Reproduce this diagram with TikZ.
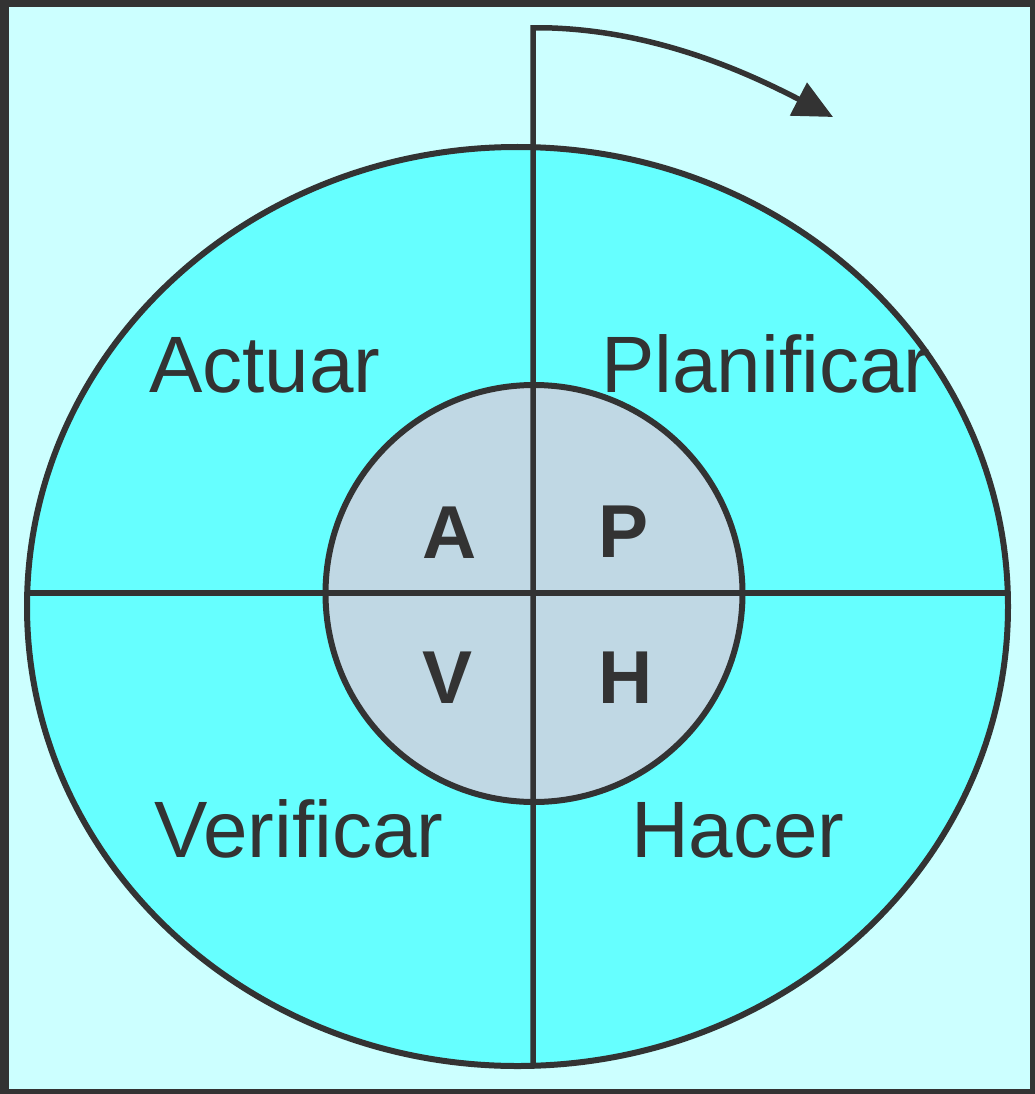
\documentclass[tikz,border=0pt]{standalone}
\usepackage{fontspec}
\setmainfont{Liberation Sans}
\usetikzlibrary{arrows.meta}
\definecolor{framecol}{HTML}{333333}
\definecolor{bgcol}{HTML}{CCFFFF}
\definecolor{ringcol}{HTML}{66FFFF}
\definecolor{corecol}{HTML}{C0D8E4}
\definecolor{inkcol}{HTML}{333333}
\tikzset{
  outline/.style={draw=inkcol, line width=6pt},
  bigword/.style={inner sep=0pt, anchor=base west, text=inkcol, font=\fontsize{80}{96}\selectfont},
  letter/.style={inner sep=0pt, anchor=base west, text=inkcol, font=\fontsize{75}{90}\selectfont\bfseries},
}
\begin{document}
\begin{tikzpicture}[x=1pt,y=-1pt]
  % frame and background
  \fill[framecol] (0,0) rectangle (1035,1094);
  \fill[bgcol] (9,7) rectangle (1030,1089);
  \useasboundingbox (0,0) rectangle (1035,1094);
  % named coordinates
  \coordinate (top) at (533,28);
  \coordinate (bottom) at (533,1065.8);
  \coordinate (left) at (27.2,593);
  \coordinate (right) at (1007.8,593);
  \coordinate (tip) at (833,117);
  % outer ellipse fill
  \fill[ringcol] (517.5,606.5) ellipse [x radius=490.5, y radius=459.5];
  % inner circle fill
  \fill[corecol] (534,593.5) circle [radius=208.5];
  % cross lines
  \draw[draw=inkcol, line width=6pt] (left) -- (right);
  \draw[draw=inkcol, line width=5.5pt, -{Triangle[length=39pt,width=36pt]}]
    (bottom) -- (top) -- (552,28) .. controls (660,32) and (750,74) .. (tip);
  % outlines
  \draw[outline] (534,593.5) circle [radius=208.5];
  \draw[outline] (517.5,606.5) ellipse [x radius=490.5, y radius=459.5];
  % words
  \node[bigword] (actuar) at (149,392) {Actuar};
  \node[bigword] (planificar) at (601,392) {Planificar};
  \node[bigword] (verificar) at (154,857) {Verificar};
  \node[bigword] (hacer) at (631,857) {Hacer};
  % letters
  \node[letter] (la) at (422,558) {A};
  \node[letter] (lp) at (598,557) {P};
  \node[letter] (lv) at (422,703) {V};
  \node[letter] (lh) at (598,703) {H};
\end{tikzpicture}
\end{document}
